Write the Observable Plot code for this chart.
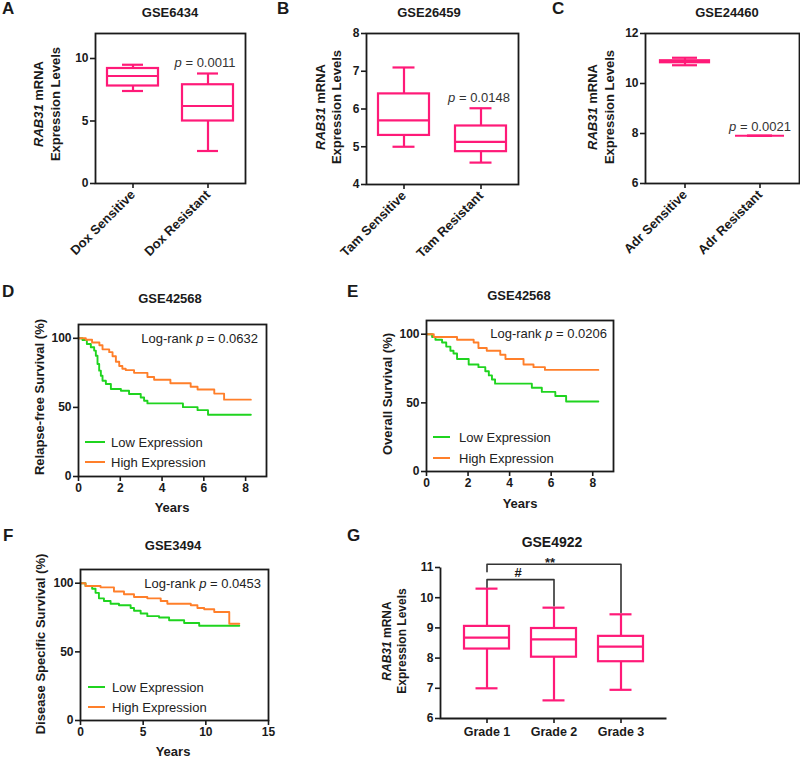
<!DOCTYPE html>
<html><head><meta charset="utf-8">
<script src="https://cdn.jsdelivr.net/npm/d3@7"></script>
<script src="https://cdn.jsdelivr.net/npm/@observablehq/plot@0.6"></script>
<style>
body{margin:0;background:#fff;}
#fig{position:relative;width:800px;height:758px;overflow:hidden;background:#fff;}
#fig svg{position:absolute;left:0;top:0;}
</style></head><body><div id="fig"></div>
<script>
// ---------- data ----------
// Panel A GSE6434
const catsA = ["Dox Sensitive", "Dox Resistant"];
const minA = [7.4, 2.6], q1A = [7.8, 5.0], medA = [8.6, 6.2], q3A = [9.2, 7.9], maxA = [9.5, 8.8];
const ticksA = [0, 5, 10];
// Panel B GSE26459
const catsB = ["Tam Sensitive", "Tam Resistant"];
const minB = [5.0, 4.58], q1B = [5.3, 4.87], medB = [5.7, 5.13], q3B = [6.4, 5.55], maxB = [7.1, 6.02];
const ticksB = [4, 5, 6, 7, 8];
// Panel C GSE24460
const catsC = ["Adr Sensitive", "Adr Resistant"];
const minC = [10.73, 7.91], q1C = [10.83, 7.91], medC = [10.87, 7.91], q3C = [10.91, 7.91], maxC = [11.03, 7.91];
const ticksC = [6, 8, 10, 12];
// Panel G GSE4922
const catsG = ["Grade 1", "Grade 2", "Grade 3"];
const minG = [7.0, 6.6, 6.95], q1G = [8.3, 8.03, 7.88], medG = [8.68, 8.62, 8.38], q3G = [9.05, 8.98, 8.72], maxG = [10.3, 9.67, 9.45];
const ticksG = [6, 7, 8, 9, 10, 11];
const bracketHashX = ["Grade 1", "Grade 1", "Grade 2", "Grade 2"];
const bracketHashY = [10.35, 10.6, 10.6, 9.73];
const bracketStarX = ["Grade 1", "Grade 1", "Grade 3", "Grade 3"];
const bracketStarY = [10.86, 11.11, 11.11, 9.51];

// Panel D GSE42568 relapse-free
const dLowT = [0, 0.19, 0.4, 0.59, 0.75, 0.83, 0.91, 0.99, 1.07, 1.15, 1.31, 1.55, 2.03, 2.42, 2.98, 3.14, 3.3, 5.0, 5.7, 6.2, 8.25];
const dLowS = [100, 98.8, 95.9, 93.5, 91.1, 87.4, 81.4, 76.6, 72.9, 69.3, 66.9, 63.3, 62.1, 59.7, 57.2, 54.8, 52.9, 50.2, 48, 44.7, 44.7];
const dHighT = [0, 0.35, 0.65, 1.0, 1.15, 1.47, 1.63, 1.79, 1.95, 2.1, 2.26, 2.66, 3.3, 3.62, 4.4, 5.37, 5.7, 6.5, 6.97, 8.25];
const dHighS = [100, 99, 97, 95, 92, 90, 87, 83, 80, 78, 77, 75, 72, 70, 67.5, 65, 63, 60, 55.6, 55.6];
// Panel E GSE42568 overall
const eLowT = [0, 0.27, 0.43, 0.75, 0.95, 1.15, 1.3, 1.47, 2.03, 2.5, 2.83, 3.0, 3.15, 3.3, 5.07, 5.55, 6.2, 6.72, 8.27];
const eLowS = [100, 98, 96, 94, 91, 88, 86, 82, 78, 76, 73, 70, 67, 64, 61, 58, 55, 51, 51];
const eHighT = [0, 0.35, 1.47, 2.27, 2.5, 2.9, 3.55, 3.8, 4.67, 5.15, 5.7, 8.27];
const eHighS = [100, 98, 96, 94, 90, 88, 85, 82, 78, 76, 74, 74];
// Panel F GSE3494 disease specific
const fLowT = [0, 0.4, 0.93, 1.2, 1.47, 1.87, 2.4, 3.07, 4.0, 4.27, 4.8, 5.33, 6.27, 7.07, 8.27, 9.47, 12.67];
const fLowS = [100, 98, 96, 93, 89, 87, 85, 84, 82, 80, 78, 76, 75, 73, 71, 69, 69];
const fHighT = [0, 0.4, 1.6, 2.67, 3.47, 4.27, 5.33, 6.4, 6.93, 8.8, 9.33, 9.87, 10.67, 11.87, 12.67];
const fHighS = [100, 98, 97, 94, 92, 90, 89, 87, 85, 84, 82, 81, 79, 70.5, 70.5];
const kmTicksY = [0, 50, 100];

// ---------- style ----------
const W = 800, H = 758;
const FONT = "'Liberation Sans', Arial, Helvetica, sans-serif";
const PINK = "#ff1a78", GREEN = "#1fd41f", ORANGE = "#ff7f2a", INK = "#1a1a1a";
const fig = document.getElementById("fig");

function baseStyle() {
  return {background: "transparent", fontFamily: FONT, fontSize: "12px", fontWeight: "bold", color: INK, overflow: "visible"};
}

function boxPanel({cats, mins, q1s, meds, q3s, maxs, yDomain, yTicks, frame, pI, pO, cap, rotate = true, fullFrame = true, extra = []}) {
  const [x0, x1, y0, y1] = frame;
  const rows = cats.map((c, i) => ({cat: c, min: mins[i], q1: q1s[i], med: meds[i], q3: q3s[i], max: maxs[i]}));
  const fw = x1 - x0, fh = y1 - y0;
  const plot = Plot.plot({
    width: W, height: H,
    marginLeft: x0, marginRight: W - x1, marginTop: y0, marginBottom: H - y1,
    style: baseStyle(),
    x: {type: "band", domain: cats, paddingInner: pI, paddingOuter: pO, label: null},
    y: {domain: yDomain, label: null},
    marks: [
      Plot.ruleX(rows, {x: "cat", y1: "min", y2: "q1", stroke: PINK, strokeWidth: 2.2}),
      Plot.ruleX(rows, {x: "cat", y1: "q3", y2: "max", stroke: PINK, strokeWidth: 2.2}),
      Plot.barY(rows, {x: "cat", y1: "q1", y2: "q3", fill: "none", stroke: PINK, strokeWidth: 2.2}),
      Plot.tickY(rows, {x: "cat", y: "med", stroke: PINK, strokeWidth: 2.2}),
      Plot.tickY(rows, {x: "cat", y: "min", stroke: PINK, strokeWidth: 2.2, inset: cap}),
      Plot.tickY(rows, {x: "cat", y: "max", stroke: PINK, strokeWidth: 2.2, inset: cap}),
      fullFrame
        ? Plot.frame({stroke: INK, strokeWidth: 1.8})
        : Plot.frame({stroke: INK, strokeWidth: 1.8, strokeDasharray: `0 ${fw + fh} ${fw + fh}`}),
      Plot.axisY(yTicks, {tickSize: 5, tickPadding: 2, strokeWidth: 1.6, label: null}),
      Plot.axisX({tickSize: 5, tickPadding: rotate ? 4 : 4, strokeWidth: 1.6, tickRotate: rotate ? -45 : 0, label: null, fontSize: rotate ? 13 : 12.5}),
      ...extra
    ]
  });
  fig.appendChild(plot);
}

function kmPanel({frame, xDomain, xTicks, series}) {
  const [x0, x1, y0, y1] = frame;
  const marks = series.map(({t, s, color}) =>
    Plot.line(t.map((v, i) => ({t: v, s: s[i]})), {x: "t", y: "s", stroke: color, strokeWidth: 1.9, curve: "step-after"}));
  const plot = Plot.plot({
    width: W, height: H,
    marginLeft: x0, marginRight: W - x1, marginTop: y0, marginBottom: H - y1,
    style: baseStyle(),
    x: {domain: xDomain, label: null},
    y: {domain: [0, 110], label: null},
    marks: [
      ...marks,
      Plot.frame({stroke: INK, strokeWidth: 1.8}),
      Plot.axisY(kmTicksY, {tickSize: 5, tickPadding: 2, strokeWidth: 1.6, label: null}),
      Plot.axisX(xTicks, {tickSize: 5, tickPadding: 2, strokeWidth: 1.6, label: null})
    ]
  });
  fig.appendChild(plot);
}

// ---------- panels ----------
boxPanel({cats: catsA, mins: minA, q1s: q1A, meds: medA, q3s: q3A, maxs: maxA, yDomain: [0, 12], yTicks: ticksA,
  frame: [95, 245, 33, 183], pI: 0.316, pO: 0.145, cap: 15});
boxPanel({cats: catsB, mins: minB, q1s: q1B, meds: medB, q3s: q3B, maxs: maxB, yDomain: [4, 8], yTicks: ticksB,
  frame: [366, 518, 33, 184], pI: 0.338, pO: 0.156, cap: 14.5});
boxPanel({cats: catsC, mins: minC, q1s: q1C, meds: medC, q3s: q3C, maxs: maxC, yDomain: [6, 12], yTicks: ticksC,
  frame: [645, 799, 33, 183], pI: 0.347, pO: 0.2, cap: 12});
boxPanel({cats: catsG, mins: minG, q1s: q1G, meds: medG, q3s: q3G, maxs: maxG, yDomain: [6, 11], yTicks: ticksG,
  frame: [440, 666, 567, 718], pI: 0.333, pO: 0.34, cap: 11.5, rotate: false, fullFrame: false,
  extra: [
    Plot.line(bracketHashX.map((x, i) => ({x, y: bracketHashY[i]})), {x: "x", y: "y", stroke: "#333", strokeWidth: 1.6}),
    Plot.line(bracketStarX.map((x, i) => ({x, y: bracketStarY[i]})), {x: "x", y: "y", stroke: "#333", strokeWidth: 1.6})
  ]});

kmPanel({frame: [78, 266, 324, 476], xDomain: [0, 9], xTicks: [0, 2, 4, 6, 8],
  series: [{t: dLowT, s: dLowS, color: GREEN}, {t: dHighT, s: dHighS, color: ORANGE}]});
kmPanel({frame: [426, 613, 320, 471], xDomain: [0, 9], xTicks: [0, 2, 4, 6, 8],
  series: [{t: eLowT, s: eLowS, color: GREEN}, {t: eHighT, s: eHighS, color: ORANGE}]});
kmPanel({frame: [80, 268, 569, 720], xDomain: [0, 15], xTicks: [0, 5, 10, 15],
  series: [{t: fLowT, s: fLowS, color: GREEN}, {t: fHighT, s: fHighS, color: ORANGE}]});

// ---------- text overlay ----------
const ov = d3.select("#fig").append("svg").attr("width", W).attr("height", H)
  .style("font-family", FONT).style("white-space", "pre");
function label(x, y, parts, {size = 13, weight = "bold", anchor = "middle", rot = 0, fill = INK, center = false} = {}) {
  const t = ov.append("text").attr("transform", `translate(${x},${y}) rotate(${rot})`)
    .attr("text-anchor", anchor).attr("font-size", size).attr("font-weight", weight).attr("fill", fill);
  if (center) t.attr("dy", "0.36em");
  (typeof parts === "string" ? [[parts, false]] : parts)
    .forEach(([s, it]) => t.append("tspan").attr("font-style", it ? "italic" : "normal").text(s));
}
// panel letters
[["A", 2, 14], ["B", 277, 14], ["C", 552, 14], ["D", 2, 297], ["E", 347, 297], ["F", 3, 541], ["G", 347, 541]]
  .forEach(([s, x, y]) => label(x, y, s, {size: 17, anchor: "start"}));
// titles
label(170, 17, "GSE6434");
label(429, 17, "GSE26459");
label(727, 17, "GSE24460");
label(170, 303, "GSE42568");
label(519, 300, "GSE42568");
label(173, 550, "GSE3494");
label(552, 547, "GSE4922", {size: 14});
// y labels for expression
const rabLine = [["RAB31", true], [" mRNA", false]];
[[38, 55, 104, 13], [320, 336, 107, 13], [592, 609, 107, 13], [387, 402, 641, 12]].forEach(([xa, xb, y, sz]) => {
  label(xa, y, rabLine, {rot: -90, center: true, size: sz});
  label(xb, y, "Expression Levels", {rot: -90, center: true, size: sz});
});
// KM y labels
label(39, 397, "Relapse-free Survival (%)", {rot: -90, center: true});
label(387, 394, "Overall Survival (%)", {rot: -90, center: true});
label(40, 644, "Disease Specific Survival (%)", {rot: -90, center: true});
// Years
label(172, 512, "Years");
label(520, 508, "Years");
label(173, 756, "Years");
// p values
label(205, 62, [["p", true], [" = 0.0011", false]], {weight: "normal", center: true, fill: "#333"});
label(479, 97, [["p", true], [" = 0.0148", false]], {weight: "normal", center: true, fill: "#333"});
label(760, 126, [["p", true], [" = 0.0021", false]], {weight: "normal", center: true, fill: "#333"});
label(258, 338, [["Log-rank ", false], ["p", true], [" = 0.0632", false]], {weight: "normal", center: true, anchor: "end", fill: "#222"});
label(607, 333, [["Log-rank ", false], ["p", true], [" = 0.0206", false]], {weight: "normal", center: true, anchor: "end", fill: "#222"});
label(261, 583, [["Log-rank ", false], ["p", true], [" = 0.0453", false]], {weight: "normal", center: true, anchor: "end", fill: "#222"});
// legends
[[85, 105, 111, 442, 462], [433, 450, 459, 437, 458], [88, 105, 112, 687, 707]].forEach(([lx0, lx1, tx, yl, yh]) => {
  ov.append("line").attr("x1", lx0).attr("x2", lx1).attr("y1", yl).attr("y2", yl).attr("stroke", GREEN).attr("stroke-width", 2);
  ov.append("line").attr("x1", lx0).attr("x2", lx1).attr("y1", yh).attr("y2", yh).attr("stroke", ORANGE).attr("stroke-width", 2);
  label(tx, yl, "Low Expression", {weight: "normal", anchor: "start", center: true, fill: "#222"});
  label(tx, yh, "High Expression", {weight: "normal", anchor: "start", center: true, fill: "#222"});
});
// significance marks
label(518, 577, "#", {size: 13});
label(550, 567, "**", {size: 13});
</script>
</body></html>
